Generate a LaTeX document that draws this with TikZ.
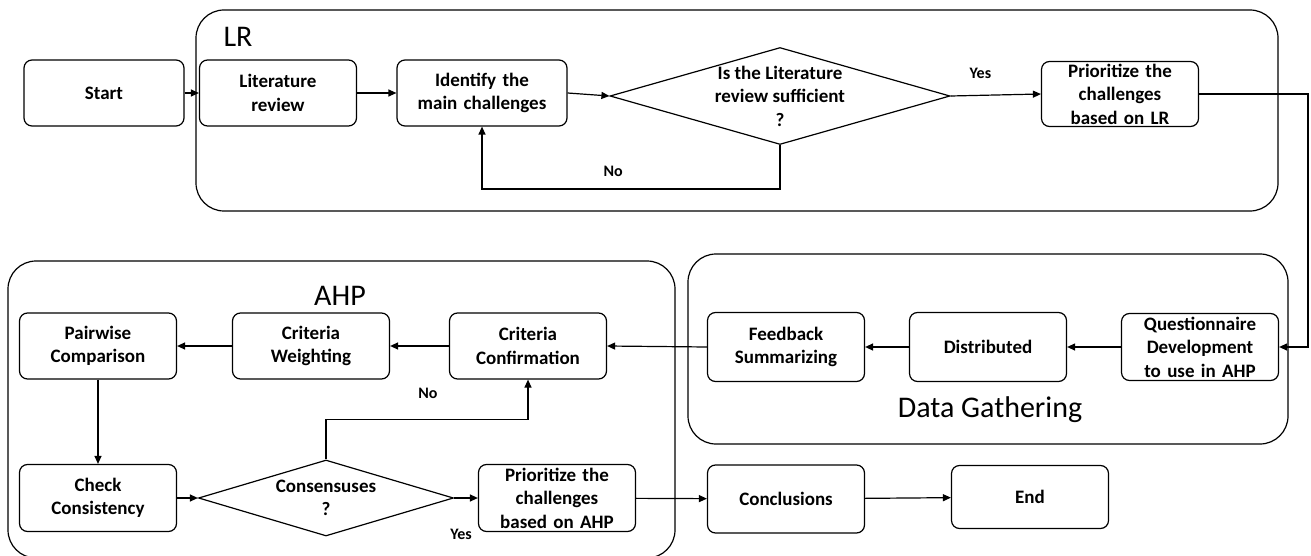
\documentclass[tikz,border=0pt]{standalone}
\usepackage{fontspec}
\setmainfont{Carlito}
\usetikzlibrary{shapes.geometric,arrows.meta}

\begin{document}
\begin{tikzpicture}[x=1pt, y=-1pt, line width=1.2pt,
		box/.style={draw, rounded corners=8pt, minimum width=157pt, minimum height=66pt, text width=155pt, align=center, inner sep=0pt, font=\fontsize{19}{23.5}\selectfont\bfseries},
		decision/.style={draw, diamond, inner sep=0pt},
		dtext/.style={align=center, font=\fontsize{19}{23.5}\selectfont\bfseries},
		group/.style={draw, rounded corners=28pt},
		title/.style={font=\fontsize{30}{34}\selectfont},
		answer/.style={font=\fontsize{16}{19}\selectfont\bfseries},
		arr/.style={-{Triangle[length=8pt,width=7pt]}},
	]
	\useasboundingbox (0,0) rectangle (1311,556);

	% groups
	\draw [group] (196,10) rectangle (1278,211);
	\draw [group] (688,254) rectangle (1288,444);
	\draw [group] (8,261) rectangle (675,558);
	\node [title] (lrt) at (238,37) {LR};
	\node [title] (dgt) at (990,410) {Data Gathering};
	\node [title] (ahpt) at (340,296) {AHP};

	% first row
	\node [box, minimum width=160pt] (start) at (104,93) {Start};
	\node [box] (lit) at (278,93) {Literature\\review};
	\node [box, minimum width=170pt, text width=168pt] (idc) at (482,93) {Identify the\\main challenges};
	\node [decision, minimum width=340pt, minimum height=97pt, label={[dtext]center:Is the Literature\\review sufficient\\?}] (dec1) at (780,96) {};
	\node [box, minimum height=65pt] (plr) at (1120,94) {Prioritize the\\challenges\\based on LR};

	% data gathering
	\node [box, minimum height=67pt] (q) at (1200,347) {Questionnaire\\Development\\to use in AHP};
	\node [box, minimum height=69pt] (dist) at (988,347) {Distributed};
	\node [box, minimum height=69pt] (fs) at (786,347) {Feedback\\Summarizing};

	% AHP
	\node [box] (cc) at (528,346) {Criteria\\Confirmation};
	\node [box] (cw) at (311,346) {Criteria\\Weighting};
	\node [box] (pc) at (98,346) {Pairwise\\Comparison};
	\node [box, minimum height=67pt] (chk) at (98,498) {Check\\Consistency};
	\node [decision, minimum width=255pt, minimum height=76pt, label={[dtext]center:Consensuses\\?}] (dec2) at (326,498) {};
	\node [box, minimum height=67pt] (pahp) at (557,498) {Prioritize the\\challenges\\based on AHP};
	\node [box, minimum height=68pt] (concl) at (786,499) {Conclusions};
	\node [box, minimum height=63pt] (endn) at (1030,497) {End};

	\coordinate (rim) at (1308,0);

	\draw [arr] (start) -- (lit);
	\draw [arr] (lit) -- (idc);
	\draw [arr] (idc.east) -- (dec1.west);
	\draw [arr] (dec1.east) -- node [answer, above=13pt, pos=0.33] (yes1) {Yes} (plr.west);
	\draw [arr] (dec1.south) -- ++(0,44) -| node [answer, above=9pt, pos=0.28] (no1) {No} (idc.south);
	\draw [arr] (plr.east) -- (plr.east -| rim) |- (q.east);
	\draw [arr] (q) -- (dist);
	\draw [arr] (dist) -- (fs);
	\draw [arr] (fs.west) -- (cc.east);
	\draw [arr] (cc) -- (cw);
	\draw [arr] (cw) -- (pc);
	\draw [arr] (pc) -- (chk);
	\draw [arr] (chk.east) -- (dec2.west);
	\draw [arr] (dec2.east) -- (pahp.west);
	\node [answer] (yes2) at (461,534) {Yes};
	\draw [arr] (dec2.north) -- ++(0,-40) -| (cc.south);
	\node [answer] (no2) at (428,393) {No};
	\draw [arr] (pahp) -- (concl);
	\draw [arr] (concl) -- (endn);
\end{tikzpicture}
\end{document}
